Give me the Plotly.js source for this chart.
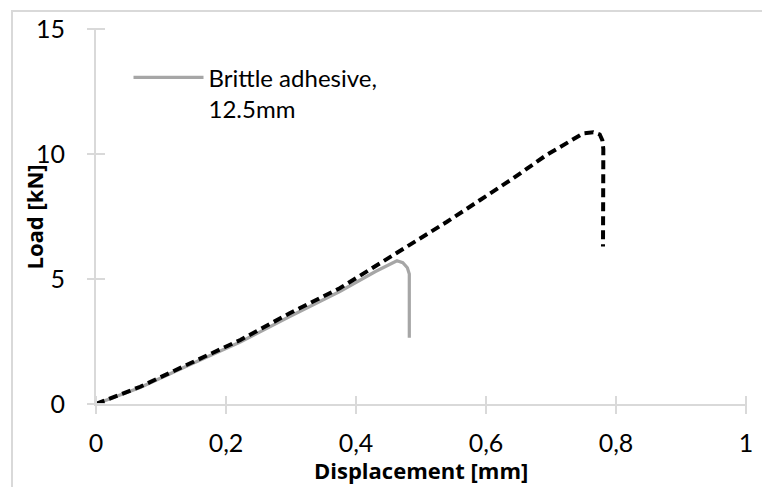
<!DOCTYPE html>
<html>
<head>
<meta charset="utf-8">
<script src="https://cdn.plot.ly/plotly-3.0.1.min.js"></script>
<style>
  html, body { margin: 0; padding: 0; background: #ffffff; }
  #wrap { position: relative; width: 762px; height: 487px; overflow: hidden; background: #ffffff; }
  #frame { position: absolute; left: 11px; top: 10px; width: 800px; height: 520px; border: 2px solid #d9d9d9; box-sizing: border-box; }
  #chart { position: absolute; left: 0; top: 0; width: 762px; height: 487px; }
</style>
</head>
<body>
<div id="wrap">
  <div id="frame"></div>
  <div id="chart"></div>
</div>
<script>
// Brittle adhesive, 12.5 mm overlap (grey solid)
const brittleX = [0, 0.068, 0.145, 0.222, 0.298, 0.375, 0.43, 0.463, 0.472, 0.479, 0.482, 0.482];
const brittleY = [0, 0.66, 1.58, 2.48, 3.50, 4.50, 5.30, 5.73, 5.65, 5.45, 5.20, 2.65];

// Second specimen (black dashed)
const dashedX = [0, 0.068, 0.145, 0.222, 0.298, 0.375, 0.437, 0.488, 0.540, 0.591, 0.642, 0.693, 0.734, 0.750, 0.765, 0.775, 0.779, 0.7805, 0.780];
const dashedY = [0, 0.69, 1.63, 2.56, 3.63, 4.63, 5.63, 6.43, 7.29, 8.16, 9.03, 9.96, 10.56, 10.83, 10.87, 10.78, 10.55, 10.20, 6.30];

const xTicks = [0, 0.2, 0.4, 0.6, 0.8, 1];
const yTicks = [0, 5, 10, 15];

const legendName = 'Brittle adhesive,<br>12.5mm';
const xTitle = 'Displacement [mm]';
const yTitle = 'Load [kN]';

const FONT = 'Lato, "Liberation Sans", sans-serif';
const TFONT = '"Open Sans", Lato, sans-serif';
const AXC = '#d9d9d9';

const traces = [
  {
    x: brittleX, y: brittleY, type: 'scatter', mode: 'lines',
    name: legendName,
    line: { color: '#a6a6a6', width: 3.2 },
    showlegend: true
  },
  {
    x: dashedX, y: dashedY, type: 'scatter', mode: 'lines',
    xaxis: 'x2', yaxis: 'y2',
    name: 'dashed',
    line: { color: '#000000', width: 4, dash: '9px,5px' },
    showlegend: false
  }
];

// main axes: line + labels, no ticks
const baseAxis = {
  showgrid: false, zeroline: false, showline: true,
  linecolor: AXC, linewidth: 2,
  ticks: '', 
  tickfont: { family: FONT, size: 25, color: '#000000' },
  fixedrange: true
};

// overlay axes: only the crossing tick marks (shifted half a tick inward, drawn outward)
const tickAxis = {
  showgrid: false, zeroline: false, showline: false, showticklabels: false,
  ticks: 'outside', ticklen: 18, tickwidth: 2, tickcolor: AXC,
  anchor: 'free', fixedrange: true
};

const layout = {
  width: 762, height: 487,
  margin: { l: 96, r: 16, t: 29, b: 83, pad: 0 },
  paper_bgcolor: 'rgba(0,0,0,0)',
  plot_bgcolor: 'rgba(0,0,0,0)',
  separators: ', ',
  font: { family: FONT, color: '#000000' },
  xaxis: Object.assign({}, baseAxis, {
    range: [0, 1], tickvals: xTicks, ticklabelstandoff: 16
  }),
  yaxis: Object.assign({}, baseAxis, {
    range: [0, 15], tickvals: yTicks, ticklabelstandoff: 24
  }),
  xaxis2: Object.assign({}, tickAxis, {
    overlaying: 'x', side: 'bottom', position: 9 / 375,
    range: [0, 1], tickvals: xTicks
  }),
  yaxis2: Object.assign({}, tickAxis, {
    overlaying: 'y', side: 'left', position: 9 / 650,
    range: [0, 15], tickvals: yTicks
  }),
  showlegend: true,
  legend: {
    x: 0.05, y: 0.93, xanchor: 'left', yanchor: 'top',
    bgcolor: 'rgba(0,0,0,0)', borderwidth: 0,
    font: { family: FONT, size: 24, color: '#000000' },
    itemwidth: 70, valign: 'top', tracegroupgap: 0
  },
  annotations: [
    {
      text: '<b>' + xTitle + '</b>', xref: 'paper', yref: 'paper',
      x: 0.5, y: -0.176, xanchor: 'center', yanchor: 'middle',
      showarrow: false, font: { family: TFONT, size: 22, color: '#000000' }
    },
    {
      text: '<b>' + yTitle + '</b>', xref: 'paper', yref: 'paper',
      x: -0.0954, y: 0.5, xanchor: 'center', yanchor: 'middle', textangle: -90,
      showarrow: false, font: { family: TFONT, size: 22, color: '#000000' }
    }
  ]
};

Plotly.newPlot('chart', traces, layout, { displayModeBar: false, staticPlot: true });
</script>
</body>
</html>
